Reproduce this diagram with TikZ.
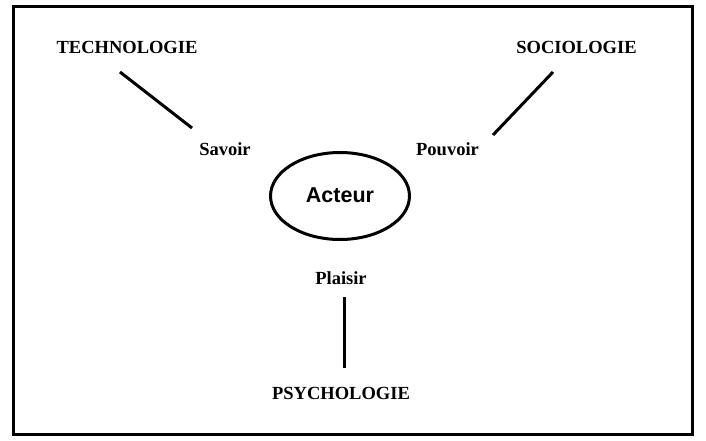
\documentclass[tikz,border=0pt]{standalone}
\usepackage{fontspec}
\setmainfont{Liberation Serif}
\setsansfont{Liberation Sans}
\usetikzlibrary{shapes.geometric}
\tikzset{
  discipline/.style={inner sep=0pt,font=\fontsize{18.5}{20}\selectfont\bfseries},
  lever/.style={inner sep=0pt,font=\fontsize{18.5}{20}\selectfont\bfseries},
  actor/.style={draw,ellipse,line width=3pt,inner sep=0pt,
    minimum width=139pt,minimum height=87pt,
    font=\sffamily\bfseries\fontsize{21.5}{24}\selectfont},
  link/.style={line width=3pt},
  frame/.style={line width=3.5pt},
}
\begin{document}
\begin{tikzpicture}[x=1pt,y=-1pt]
\useasboundingbox (0,0) rectangle (706,441);
\draw[frame] (13.5,6.5) rectangle (692.5,434.5);
% the actor
\node[actor] (acteur) at (340,196) {\raisebox{1.5pt}{Acteur}};
% levers
\node[lever] (savoir) at (225,149) {Savoir};
\node[lever] (pouvoir) at (447.5,149) {Pouvoir};
\node[lever] (plaisir) at (341,278) {Plaisir};
% disciplines
\node[discipline] (techno) at (127,47.5) {TECHNOLOGIE};
\node[discipline] (socio) at (576.5,47.5) {SOCIOLOGIE};
\node[discipline] (psycho) at (341,393) {PSYCHOLOGIE};
% line ends
\coordinate (technoEnd) at (120,72);
\coordinate (savoirEnd) at (192,128);
\coordinate (socioEnd) at (553,72);
\coordinate (pouvoirEnd) at (493,135);
\coordinate (plaisirEnd) at (344.5,297);
\coordinate (psychoEnd) at (344.5,368);
\draw[link] (technoEnd) -- (savoirEnd);
\draw[link] (socioEnd) -- (pouvoirEnd);
\draw[link] (plaisirEnd) -- (psychoEnd);
\end{tikzpicture}
\end{document}
